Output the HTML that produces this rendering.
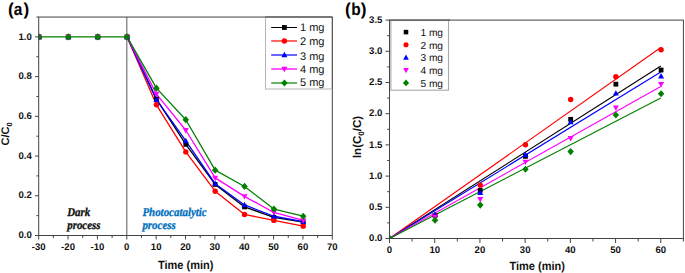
<!DOCTYPE html>
<html><head><meta charset="utf-8"><style>
html,body{margin:0;padding:0;background:#fff;width:685px;height:273px;overflow:hidden;font-family:"Liberation Sans",sans-serif;}
svg{display:block;}
</style></head><body>
<svg width="685" height="273" viewBox="0 0 685 273" text-rendering="geometricPrecision">
<rect width="685" height="273" fill="#fff"/>
<line x1="126.78" y1="17.04" x2="126.78" y2="235.50" stroke="#808080" stroke-width="1.3"/>
<defs><clipPath id="cL"><rect x="38.7" y="17.04" width="293.60" height="218.46"/></clipPath><clipPath id="cR"><rect x="389.5" y="20.1" width="293.90" height="218.40"/></clipPath></defs>
<g clip-path="url(#cL)">
<polyline points="127.08,36.90 156.44,99.06 185.80,144.34 215.16,184.46 244.52,206.90 273.88,217.43 303.24,222.19" fill="none" stroke="#000000" stroke-width="1.3" stroke-linejoin="round"/>
<polyline points="127.08,36.90 156.44,104.82 185.80,151.89 215.16,191.21 244.52,214.45 273.88,220.41 303.24,226.17" fill="none" stroke="#ff0000" stroke-width="1.3" stroke-linejoin="round"/>
<polyline points="127.08,36.90 156.44,99.66 185.80,140.97 215.16,183.67 244.52,204.92 273.88,216.24 303.24,221.60" fill="none" stroke="#0000ff" stroke-width="1.3" stroke-linejoin="round"/>
<polyline points="127.08,36.90 156.44,94.10 185.80,130.24 215.16,177.91 244.52,196.38 273.88,212.46 303.24,220.41" fill="none" stroke="#ff00ff" stroke-width="1.3" stroke-linejoin="round"/>
<polyline points="39.00,36.90 68.36,36.90 97.72,36.90 127.08,36.90 156.44,88.14 185.80,119.72 215.16,170.16 244.52,186.45 273.88,209.09 303.24,216.24" fill="none" stroke="#008000" stroke-width="1.3" stroke-linejoin="round"/>
<rect x="36.60" y="34.50" width="4.80" height="4.80" fill="#000000"/>
<rect x="65.96" y="34.50" width="4.80" height="4.80" fill="#000000"/>
<rect x="95.32" y="34.50" width="4.80" height="4.80" fill="#000000"/>
<rect x="124.68" y="34.50" width="4.80" height="4.80" fill="#000000"/>
<rect x="154.04" y="96.66" width="4.80" height="4.80" fill="#000000"/>
<rect x="183.40" y="141.94" width="4.80" height="4.80" fill="#000000"/>
<rect x="212.76" y="182.06" width="4.80" height="4.80" fill="#000000"/>
<rect x="242.12" y="204.50" width="4.80" height="4.80" fill="#000000"/>
<rect x="271.48" y="215.03" width="4.80" height="4.80" fill="#000000"/>
<rect x="300.84" y="219.79" width="4.80" height="4.80" fill="#000000"/>
<circle cx="39.00" cy="36.90" r="2.70" fill="#ff0000"/>
<circle cx="68.36" cy="36.90" r="2.70" fill="#ff0000"/>
<circle cx="97.72" cy="36.90" r="2.70" fill="#ff0000"/>
<circle cx="127.08" cy="36.90" r="2.70" fill="#ff0000"/>
<circle cx="156.44" cy="104.82" r="2.70" fill="#ff0000"/>
<circle cx="185.80" cy="151.89" r="2.70" fill="#ff0000"/>
<circle cx="215.16" cy="191.21" r="2.70" fill="#ff0000"/>
<circle cx="244.52" cy="214.45" r="2.70" fill="#ff0000"/>
<circle cx="273.88" cy="220.41" r="2.70" fill="#ff0000"/>
<circle cx="303.24" cy="226.17" r="2.70" fill="#ff0000"/>
<path d="M39.00,33.75 L42.00,39.15 L36.00,39.15Z" fill="#0000ff"/>
<path d="M68.36,33.75 L71.36,39.15 L65.36,39.15Z" fill="#0000ff"/>
<path d="M97.72,33.75 L100.72,39.15 L94.72,39.15Z" fill="#0000ff"/>
<path d="M127.08,33.75 L130.08,39.15 L124.08,39.15Z" fill="#0000ff"/>
<path d="M156.44,96.51 L159.44,101.91 L153.44,101.91Z" fill="#0000ff"/>
<path d="M185.80,137.82 L188.80,143.22 L182.80,143.22Z" fill="#0000ff"/>
<path d="M215.16,180.52 L218.16,185.92 L212.16,185.92Z" fill="#0000ff"/>
<path d="M244.52,201.77 L247.52,207.17 L241.52,207.17Z" fill="#0000ff"/>
<path d="M273.88,213.09 L276.88,218.49 L270.88,218.49Z" fill="#0000ff"/>
<path d="M303.24,218.45 L306.24,223.85 L300.24,223.85Z" fill="#0000ff"/>
<path d="M39.00,40.05 L42.00,34.65 L36.00,34.65Z" fill="#ff00ff"/>
<path d="M68.36,40.05 L71.36,34.65 L65.36,34.65Z" fill="#ff00ff"/>
<path d="M97.72,40.05 L100.72,34.65 L94.72,34.65Z" fill="#ff00ff"/>
<path d="M127.08,40.05 L130.08,34.65 L124.08,34.65Z" fill="#ff00ff"/>
<path d="M156.44,97.25 L159.44,91.85 L153.44,91.85Z" fill="#ff00ff"/>
<path d="M185.80,133.39 L188.80,127.99 L182.80,127.99Z" fill="#ff00ff"/>
<path d="M215.16,181.06 L218.16,175.66 L212.16,175.66Z" fill="#ff00ff"/>
<path d="M244.52,199.53 L247.52,194.13 L241.52,194.13Z" fill="#ff00ff"/>
<path d="M273.88,215.61 L276.88,210.21 L270.88,210.21Z" fill="#ff00ff"/>
<path d="M303.24,223.56 L306.24,218.16 L300.24,218.16Z" fill="#ff00ff"/>
<path d="M39.00,33.30 L42.24,36.90 L39.00,40.50 L35.76,36.90Z" fill="#008000"/>
<path d="M68.36,33.30 L71.60,36.90 L68.36,40.50 L65.12,36.90Z" fill="#008000"/>
<path d="M97.72,33.30 L100.96,36.90 L97.72,40.50 L94.48,36.90Z" fill="#008000"/>
<path d="M127.08,33.30 L130.32,36.90 L127.08,40.50 L123.84,36.90Z" fill="#008000"/>
<path d="M156.44,84.54 L159.68,88.14 L156.44,91.74 L153.20,88.14Z" fill="#008000"/>
<path d="M185.80,116.12 L189.04,119.72 L185.80,123.32 L182.56,119.72Z" fill="#008000"/>
<path d="M215.16,166.56 L218.40,170.16 L215.16,173.76 L211.92,170.16Z" fill="#008000"/>
<path d="M244.52,182.85 L247.76,186.45 L244.52,190.05 L241.28,186.45Z" fill="#008000"/>
<path d="M273.88,205.49 L277.12,209.09 L273.88,212.69 L270.64,209.09Z" fill="#008000"/>
<path d="M303.24,212.64 L306.48,216.24 L303.24,219.84 L300.00,216.24Z" fill="#008000"/>
</g>
<g font-family="Liberation Serif" font-weight="bold" font-style="italic" font-size="12">
<text transform="translate(67.2,215.6) scale(0.91,1)" fill="#111" stroke="#111" stroke-width="0.3">Dark</text>
<text transform="translate(67.2,228.6) scale(0.91,1)" fill="#111" stroke="#111" stroke-width="0.3">process</text>
<text transform="translate(142.4,215.6) scale(0.91,1)" fill="#0070c0" stroke="#0070c0" stroke-width="0.3">Photocatalytic</text>
<text transform="translate(142.4,228.6) scale(0.91,1)" fill="#0070c0" stroke="#0070c0" stroke-width="0.3">process</text>
</g>
<rect x="38.7" y="17.04" width="293.60" height="218.46" fill="none" stroke="#444" stroke-width="1"/>
<path d="M38.70,235.5V239.5 M68.06,235.5V239.5 M97.42,235.5V239.5 M126.78,235.5V239.5 M156.14,235.5V239.5 M185.50,235.5V239.5 M214.86,235.5V239.5 M244.22,235.5V239.5 M273.58,235.5V239.5 M302.94,235.5V239.5 M332.30,235.5V239.5 M53.38,235.5V238.0 M82.74,235.5V238.0 M112.10,235.5V238.0 M141.46,235.5V238.0 M170.82,235.5V238.0 M200.18,235.5V238.0 M229.54,235.5V238.0 M258.90,235.5V238.0 M288.26,235.5V238.0 M317.62,235.5V238.0 M38.7,235.50H35.0 M38.7,215.64H36.400000000000006 M38.7,195.78H35.0 M38.7,175.92H36.400000000000006 M38.7,156.06H35.0 M38.7,136.20H36.400000000000006 M38.7,116.34H35.0 M38.7,96.48H36.400000000000006 M38.7,76.62H35.0 M38.7,56.76H36.400000000000006 M38.7,36.90H35.0 M38.7,17.04H36.400000000000006" stroke="#444" stroke-width="1" fill="none"/>
<g font-family="Liberation Sans" font-weight="bold" font-size="9.6" fill="#111">
<text x="38.70" y="250.2" text-anchor="middle">-30</text>
<text x="68.06" y="250.2" text-anchor="middle">-20</text>
<text x="97.42" y="250.2" text-anchor="middle">-10</text>
<text x="126.78" y="250.2" text-anchor="middle">0</text>
<text x="156.14" y="250.2" text-anchor="middle">10</text>
<text x="185.50" y="250.2" text-anchor="middle">20</text>
<text x="214.86" y="250.2" text-anchor="middle">30</text>
<text x="244.22" y="250.2" text-anchor="middle">40</text>
<text x="273.58" y="250.2" text-anchor="middle">50</text>
<text x="302.94" y="250.2" text-anchor="middle">60</text>
<text x="332.30" y="250.2" text-anchor="middle">70</text>
<text x="31.8" y="238.20" text-anchor="end">0.0</text>
<text x="31.8" y="198.48" text-anchor="end">0.2</text>
<text x="31.8" y="158.76" text-anchor="end">0.4</text>
<text x="31.8" y="119.04" text-anchor="end">0.6</text>
<text x="31.8" y="79.32" text-anchor="end">0.8</text>
<text x="31.8" y="39.60" text-anchor="end">1.0</text>
</g>
<rect x="265.5" y="17.44" width="66.80" height="71.56" fill="#fff" stroke="#b4b4b4" stroke-width="1"/>
<line x1="332.3" y1="17.04" x2="332.3" y2="89" stroke="#444" stroke-width="1"/>
<line x1="265" y1="17.04" x2="332.3" y2="17.04" stroke="#444" stroke-width="1"/>
<line x1="271.2" y1="27.5" x2="297" y2="27.5" stroke="#000000" stroke-width="1.0"/>
<rect x="282.00" y="25.10" width="4.80" height="4.80" fill="#000000"/>
<text x="300.0" y="31.00" font-family="Liberation Sans" font-size="11" fill="#111">1 mg</text>
<line x1="271.2" y1="41.0" x2="297" y2="41.0" stroke="#ff0000" stroke-width="1.2"/>
<circle cx="284.40" cy="41.00" r="2.70" fill="#ff0000"/>
<text x="300.0" y="44.60" font-family="Liberation Sans" font-size="11" fill="#111">2 mg</text>
<line x1="271.2" y1="55.0" x2="297" y2="55.0" stroke="#0000ff" stroke-width="1.2"/>
<path d="M284.40,51.85 L287.40,57.25 L281.40,57.25Z" fill="#0000ff"/>
<text x="300.0" y="59.50" font-family="Liberation Sans" font-size="11" fill="#111">3 mg</text>
<line x1="271.2" y1="69.0" x2="297" y2="69.0" stroke="#ff00ff" stroke-width="1.3"/>
<path d="M284.40,72.15 L287.40,66.75 L281.40,66.75Z" fill="#ff00ff"/>
<text x="300.0" y="72.80" font-family="Liberation Sans" font-size="11" fill="#111">4 mg</text>
<line x1="271.2" y1="83.0" x2="297" y2="83.0" stroke="#008000" stroke-width="1.2"/>
<path d="M284.40,79.40 L287.64,83.00 L284.40,86.60 L281.16,83.00Z" fill="#008000"/>
<text x="300.0" y="85.80" font-family="Liberation Sans" font-size="11" fill="#111">5 mg</text>
<text transform="translate(185.7,268.9) scale(0.925,1)" text-anchor="middle" font-family="Liberation Sans" font-weight="bold" font-size="11.9" fill="#111">Time (min)</text>
<text transform="translate(8.8,133.9) rotate(-90)" text-anchor="middle" font-family="Liberation Sans" font-weight="bold" font-size="11" fill="#111">C/C<tspan font-size="7.5" dy="3.2">0</tspan></text>
<text y="14.8" font-family="Liberation Sans" font-weight="bold" font-size="17.2" fill="#000"><tspan x="8.0">(</tspan><tspan x="23.6">)</tspan></text><text transform="translate(18.15,14.8) scale(0.9,1)" text-anchor="middle" font-family="Liberation Sans" font-weight="bold" font-size="17.2" fill="#000">a</text>
<g clip-path="url(#cR)">
<line x1="389.50" y1="238.50" x2="660.79" y2="65.90" stroke="#000000" stroke-width="1.15"/>
<line x1="389.50" y1="238.50" x2="660.79" y2="47.56" stroke="#ff0000" stroke-width="1.15"/>
<line x1="389.50" y1="238.50" x2="660.79" y2="72.02" stroke="#0000ff" stroke-width="1.15"/>
<line x1="389.50" y1="238.50" x2="660.79" y2="86.62" stroke="#ff00ff" stroke-width="1.15"/>
<line x1="389.50" y1="238.50" x2="660.79" y2="97.91" stroke="#008000" stroke-width="1.15"/>
<rect x="432.62" y="213.01" width="4.80" height="4.80" fill="#000000"/>
<rect x="477.83" y="187.93" width="4.80" height="4.80" fill="#000000"/>
<rect x="523.05" y="153.92" width="4.80" height="4.80" fill="#000000"/>
<rect x="568.26" y="116.92" width="4.80" height="4.80" fill="#000000"/>
<rect x="613.48" y="81.78" width="4.80" height="4.80" fill="#000000"/>
<rect x="658.69" y="67.62" width="4.80" height="4.80" fill="#000000"/>
<circle cx="435.02" cy="215.41" r="2.70" fill="#ff0000"/>
<circle cx="480.23" cy="185.09" r="2.70" fill="#ff0000"/>
<circle cx="525.45" cy="144.71" r="2.70" fill="#ff0000"/>
<circle cx="570.66" cy="99.47" r="2.70" fill="#ff0000"/>
<circle cx="615.88" cy="76.82" r="2.70" fill="#ff0000"/>
<circle cx="661.09" cy="49.68" r="2.70" fill="#ff0000"/>
<path d="M435.02,211.33 L438.02,216.73 L432.02,216.73Z" fill="#0000ff"/>
<path d="M480.23,189.49 L483.23,194.89 L477.23,194.89Z" fill="#0000ff"/>
<path d="M525.45,151.48 L528.45,156.88 L522.45,156.88Z" fill="#0000ff"/>
<path d="M570.66,118.91 L573.66,124.31 L567.66,124.31Z" fill="#0000ff"/>
<path d="M615.88,90.21 L618.88,95.61 L612.88,95.61Z" fill="#0000ff"/>
<path d="M661.09,73.11 L664.09,78.51 L658.09,78.51Z" fill="#0000ff"/>
<path d="M435.02,220.12 L438.02,214.72 L432.02,214.72Z" fill="#ff00ff"/>
<path d="M480.23,202.46 L483.23,197.06 L477.23,197.06Z" fill="#ff00ff"/>
<path d="M525.45,165.09 L528.45,159.69 L522.45,159.69Z" fill="#ff00ff"/>
<path d="M570.66,141.50 L573.66,136.10 L567.66,136.10Z" fill="#ff00ff"/>
<path d="M615.88,110.86 L618.88,105.46 L612.88,105.46Z" fill="#ff00ff"/>
<path d="M661.09,87.52 L664.09,82.12 L658.09,82.12Z" fill="#ff00ff"/>
<path d="M389.80,234.90 L393.04,238.50 L389.80,242.10 L386.56,238.50Z" fill="#008000"/>
<path d="M435.02,216.62 L438.26,220.22 L435.02,223.82 L431.78,220.22Z" fill="#008000"/>
<path d="M480.23,201.52 L483.47,205.12 L480.23,208.72 L476.99,205.12Z" fill="#008000"/>
<path d="M525.45,165.64 L528.69,169.24 L525.45,172.84 L522.21,169.24Z" fill="#008000"/>
<path d="M570.66,147.98 L573.90,151.58 L570.66,155.18 L567.42,151.58Z" fill="#008000"/>
<path d="M615.88,111.41 L619.12,115.01 L615.88,118.61 L612.64,115.01Z" fill="#008000"/>
<path d="M661.09,90.13 L664.33,93.73 L661.09,97.33 L657.85,93.73Z" fill="#008000"/>
</g>
<rect x="389.5" y="20.1" width="293.90" height="218.40" fill="none" stroke="#444" stroke-width="1"/>
<path d="M389.50,238.5V243.0 M434.72,238.5V243.0 M479.93,238.5V243.0 M525.15,238.5V243.0 M570.36,238.5V243.0 M615.58,238.5V243.0 M660.79,238.5V243.0 M412.11,238.5V241.5 M457.32,238.5V241.5 M502.54,238.5V241.5 M547.75,238.5V241.5 M592.97,238.5V241.5 M638.18,238.5V241.5 M683.40,238.5V241.5 M389.5,238.50H385.5 M389.5,222.90H387.2 M389.5,207.30H385.5 M389.5,191.70H387.2 M389.5,176.10H385.5 M389.5,160.50H387.2 M389.5,144.90H385.5 M389.5,129.30H387.2 M389.5,113.70H385.5 M389.5,98.10H387.2 M389.5,82.50H385.5 M389.5,66.90H387.2 M389.5,51.30H385.5 M389.5,35.70H387.2 M389.5,20.10H385.5" stroke="#444" stroke-width="1" fill="none"/>
<g font-family="Liberation Sans" font-weight="bold" font-size="9.6" fill="#111">
<text x="389.50" y="252.6" text-anchor="middle">0</text>
<text x="434.72" y="252.6" text-anchor="middle">10</text>
<text x="479.93" y="252.6" text-anchor="middle">20</text>
<text x="525.15" y="252.6" text-anchor="middle">30</text>
<text x="570.36" y="252.6" text-anchor="middle">40</text>
<text x="615.58" y="252.6" text-anchor="middle">50</text>
<text x="660.79" y="252.6" text-anchor="middle">60</text>
<text x="382.4" y="241.20" text-anchor="end">0.0</text>
<text x="382.4" y="210.00" text-anchor="end">0.5</text>
<text x="382.4" y="178.80" text-anchor="end">1.0</text>
<text x="382.4" y="147.60" text-anchor="end">1.5</text>
<text x="382.4" y="116.40" text-anchor="end">2.0</text>
<text x="382.4" y="85.20" text-anchor="end">2.5</text>
<text x="382.4" y="54.00" text-anchor="end">3.0</text>
<text x="382.4" y="22.80" text-anchor="end">3.5</text>
</g>
<rect x="390.9" y="20.50" width="57.60" height="69.70" fill="#fff" stroke="#a8a8a8" stroke-width="1.1"/>
<line x1="389.5" y1="20.1" x2="450" y2="20.1" stroke="#444" stroke-width="1"/>
<rect x="403.72" y="29.82" width="4.56" height="4.56" fill="#000000"/>
<text x="420.4" y="35.80" font-family="Liberation Sans" font-size="10.2" fill="#111">1 mg</text>
<circle cx="406.00" cy="44.80" r="2.56" fill="#ff0000"/>
<text x="420.4" y="48.50" font-family="Liberation Sans" font-size="10.2" fill="#111">2 mg</text>
<path d="M406.00,54.51 L408.85,59.64 L403.15,59.64Z" fill="#0000ff"/>
<text x="420.4" y="61.20" font-family="Liberation Sans" font-size="10.2" fill="#111">3 mg</text>
<path d="M406.00,73.19 L408.85,68.06 L403.15,68.06Z" fill="#ff00ff"/>
<text x="420.4" y="73.90" font-family="Liberation Sans" font-size="10.2" fill="#111">4 mg</text>
<path d="M406.00,79.48 L409.08,82.90 L406.00,86.32 L402.92,82.90Z" fill="#008000"/>
<text x="420.4" y="86.60" font-family="Liberation Sans" font-size="10.2" fill="#111">5 mg</text>
<text transform="translate(537.2,269.6) scale(0.925,1)" text-anchor="middle" font-family="Liberation Sans" font-weight="bold" font-size="11.9" fill="#111">Time (min)</text>
<text transform="translate(361.4,137) rotate(-90)" text-anchor="middle" font-family="Liberation Sans" font-weight="bold" font-size="11.5" fill="#111">ln(C<tspan font-size="8" dy="2.6">0</tspan><tspan dy="-2.6">/C)</tspan></text>
<text y="14.8" font-family="Liberation Sans" font-weight="bold" font-size="17.2" fill="#000"><tspan x="344.9">(</tspan><tspan x="360.8">)</tspan></text><text transform="translate(356.05,14.8) scale(0.9,1)" text-anchor="middle" font-family="Liberation Sans" font-weight="bold" font-size="17.2" fill="#000">b</text>
</svg>
</body></html>
